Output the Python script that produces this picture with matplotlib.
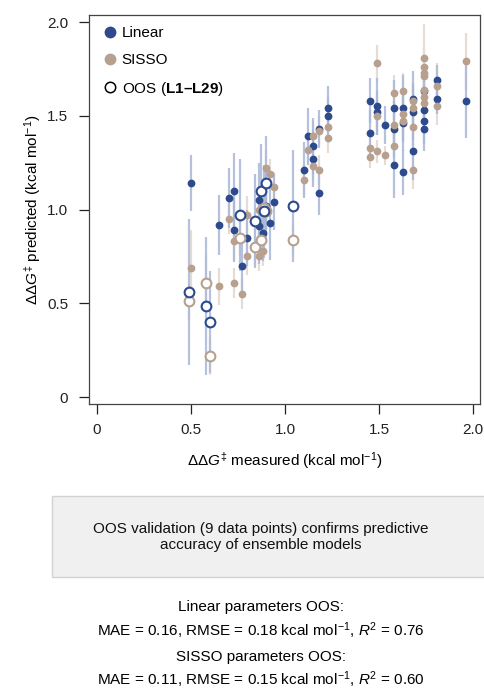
import matplotlib
matplotlib.use("Agg")
import matplotlib.pyplot as plt
from matplotlib.patches import Rectangle
from matplotlib.lines import Line2D

plt.rcParams['font.family'] = ['Liberation Sans', 'DejaVu Sans']
plt.rcParams['mathtext.fontset'] = 'custom'
plt.rcParams['mathtext.rm'] = 'Liberation Sans'
plt.rcParams['mathtext.it'] = 'Liberation Sans:italic'
plt.rcParams['mathtext.bf'] = 'Liberation Sans:bold'

# ---- data: Linear model (training) ----
lin_x = [0.50, 0.65, 0.70, 0.73, 0.73, 0.77, 0.80, 0.86, 0.86, 0.88, 0.90, 0.92, 0.94,
         1.10, 1.15, 1.18, 1.23, 1.23, 1.18, 1.12, 1.15,
         1.45, 1.49, 1.49, 1.53, 1.45, 1.58, 1.58, 1.58, 1.63, 1.63, 1.63,
         1.68, 1.68, 1.68, 1.74, 1.74, 1.74, 1.74, 1.81, 1.81, 1.96]
lin_y = [1.14, 0.92, 1.06, 1.10, 0.89, 0.70, 0.85, 1.05, 0.91, 0.875, 1.02, 0.93, 1.04,
         1.21, 1.27, 1.09, 1.54, 1.50, 1.43, 1.39, 1.34,
         1.58, 1.55, 1.52, 1.45, 1.41, 1.54, 1.43, 1.24, 1.54, 1.46, 1.20,
         1.59, 1.52, 1.31, 1.53, 1.47, 1.43, 1.63, 1.69, 1.59, 1.58]
lin_err = [0.15, 0.16, 0.16, 0.20, 0.17, 0.15, 0.15, 0.20, 0.20, 0.15, 0.20, 0.20, 0.15,
           0.15, 0.15, 0.12, 0.12, 0.10, 0.10, 0.15, 0.15,
           0.12, 0.15, 0.12, 0.10, 0.12, 0.15, 0.15, 0.18, 0.18, 0.15, 0.12,
           0.15, 0.15, 0.15, 0.12, 0.12, 0.12, 0.10, 0.08, 0.08, 0.20]

# ---- data: SISSO model (training) ----
sis_x = [0.50, 0.65, 0.70, 0.73, 0.73, 0.77, 0.80, 0.80, 0.86, 0.86, 0.88, 0.90, 0.92, 0.94,
         1.10, 1.15, 1.18, 1.23, 1.23, 1.18, 1.15, 1.12,
         1.49, 1.45, 1.45, 1.49, 1.53, 1.49, 1.58, 1.58, 1.58, 1.63, 1.63, 1.63,
         1.68, 1.68, 1.68, 1.68, 1.74, 1.74, 1.74, 1.74, 1.74, 1.74, 1.74, 1.81, 1.81, 1.96]
sis_y = [0.69, 0.59, 0.95, 0.83, 0.61, 0.55, 0.97, 0.75, 1.00, 0.75, 0.78, 1.22, 1.19, 1.12,
         1.16, 1.23, 1.21, 1.44, 1.38, 1.42, 1.39, 1.32,
         1.78, 1.33, 1.28, 1.31, 1.29, 1.50, 1.62, 1.45, 1.34, 1.63, 1.51, 1.47,
         1.58, 1.54, 1.44, 1.21, 1.81, 1.76, 1.73, 1.71, 1.64, 1.60, 1.57, 1.66, 1.55, 1.79]
sis_err = [0.20, 0.10, 0.08, 0.10, 0.08, 0.08, 0.10, 0.10, 0.08, 0.08, 0.08, 0.10, 0.08, 0.08,
           0.08, 0.08, 0.08, 0.08, 0.08, 0.08, 0.08, 0.08,
           0.10, 0.06, 0.06, 0.06, 0.05, 0.08, 0.10, 0.10, 0.10, 0.10, 0.10, 0.10,
           0.10, 0.10, 0.10, 0.10, 0.18, 0.10, 0.10, 0.10, 0.10, 0.10, 0.10, 0.12, 0.10, 0.15]

# ---- data: out-of-sample (OOS) ----
oos_x = [0.49, 0.58, 0.60, 0.76, 0.84, 0.87, 0.89, 0.90, 1.04]
oos_lin_y = [0.56, 0.485, 0.40, 0.97, 0.94, 1.10, 0.99, 1.14, 1.02]
oos_lin_err = [0.39, 0.37, 0.27, 0.30, 0.25, 0.25, 0.25, 0.25, 0.30]
oos_sis_y = [0.51, 0.61, 0.22, 0.85, 0.80, 0.84, 1.01, 0.99, 0.84]
oos_sis_err = [0.10, 0.15, 0.10, 0.10, 0.10, 0.10, 0.10, 0.10, 0.08]

blue = '#2c4a8c'
tan = '#b8a08f'
blue_bar = '#a9b8d8'
tan_bar = '#e6dcd4'

fig = plt.figure(figsize=(4.85, 6.9), dpi=100)
ax = fig.add_axes([0.1835, 0.4145, 0.8062, 0.5635])

# error bars
ax.errorbar(sis_x, sis_y, yerr=sis_err, fmt='none', ecolor=tan_bar, elinewidth=1.6, zorder=1)
ax.errorbar(oos_x, oos_sis_y, yerr=oos_sis_err, fmt='none', ecolor=tan_bar, elinewidth=1.6, zorder=1)
ax.errorbar(lin_x, lin_y, yerr=lin_err, fmt='none', ecolor=blue_bar, elinewidth=1.6, alpha=0.85, zorder=2)
ax.errorbar(oos_x, oos_lin_y, yerr=oos_lin_err, fmt='none', ecolor=blue_bar, elinewidth=1.6, alpha=0.85, zorder=2)

# points
ax.plot(lin_x, lin_y, 'o', color=blue, ms=5.6, mec='none', zorder=3)
ax.plot(sis_x, sis_y, 'o', color=tan, ms=5.6, mec='none', zorder=4)
ax.plot(oos_x, oos_sis_y, 'o', mfc='white', mec=tan, ms=7.0, mew=1.5, zorder=5)
ax.plot(oos_x, oos_lin_y, 'o', mfc='white', mec=blue, ms=7.0, mew=1.5, zorder=6)

ax.set_xlim(-0.043, 2.037)
ax.set_ylim(-0.037, 2.037)
ax.set_xticks([0, 0.5, 1.0, 1.5, 2.0])
ax.set_xticklabels(['0', '0.5', '1.0', '1.5', '2.0'])
ax.set_yticks([0, 0.5, 1.0, 1.5, 2.0])
ax.set_yticklabels(['0', '0.5', '1.0', '1.5', '2.0'])
ax.tick_params(direction='out', length=7, width=0.9, labelsize=11, colors='#222222')
ax.tick_params(axis='x', pad=7)
ax.tick_params(axis='y', pad=8)
for s in ax.spines.values():
    s.set_color('#444444')
    s.set_linewidth(0.9)

ax.set_xlabel(r'$\Delta\Delta G^{\ddag}$ measured (kcal mol$^{-1}$)', fontsize=11, labelpad=9)
ax.set_ylabel(r'$\Delta\Delta G^{\ddag}$ predicted (kcal mol$^{-1}$)', fontsize=11, labelpad=3)

handles = [
    Line2D([], [], marker='o', ls='none', color=blue, mec='none', ms=8.5),
    Line2D([], [], marker='o', ls='none', color=tan, mec='none', ms=8.5),
    Line2D([], [], marker='o', ls='none', mfc='white', mec='black', mew=1.1, ms=7.5),
]
labels = ['Linear', 'SISSO', r'OOS ($\mathbf{L1{–}L29}$)']
ax.legend(handles, labels, loc='upper left', frameon=False, fontsize=11,
          handletextpad=0.05, labelspacing=0.85, borderaxespad=0.3, handlelength=1.4,
          bbox_to_anchor=(0.0, 1.0))

# grey summary box
fig.patches.append(Rectangle((52 / 485, 1 - 577 / 690), 1 - 52 / 485, 81 / 690,
                             transform=fig.transFigure, facecolor='#f0f0f0',
                             edgecolor='#d2d2d2', linewidth=1.0))
fig.text(261 / 485, 1 - 537 / 690,
         'OOS validation (9 data points) confirms predictive\naccuracy of ensemble models',
         ha='center', va='center', fontsize=11, linespacing=1.2, color='#111111')

fig.text(261 / 485, 1 - 607 / 690, 'Linear parameters OOS:', ha='center', va='center', fontsize=11)
fig.text(261 / 485, 1 - 631 / 690, r'MAE = 0.16, RMSE = 0.18 kcal mol$^{-1}$, $R^2$ = 0.76',
         ha='center', va='center', fontsize=11)
fig.text(261 / 485, 1 - 657 / 690, 'SISSO parameters OOS:', ha='center', va='center', fontsize=11)
fig.text(261 / 485, 1 - 680 / 690, r'MAE = 0.11, RMSE = 0.15 kcal mol$^{-1}$, $R^2$ = 0.60',
         ha='center', va='center', fontsize=11)

fig.savefig('out.png', dpi=100)
